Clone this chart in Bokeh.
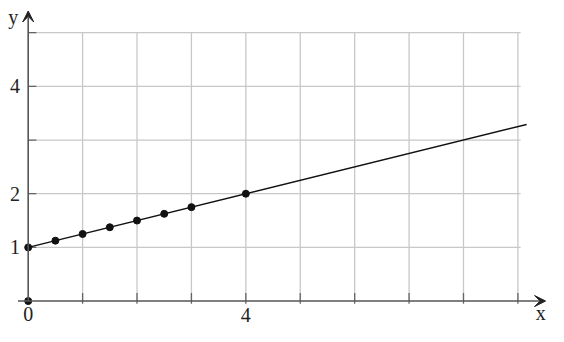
from bokeh.plotting import figure
from bokeh.models import Range1d, Arrow, VeeHead
from bokeh.core.properties import value
from bokeh.embed import file_html
from bokeh.resources import INLINE

# data
point_x = [0, 0.5, 1, 1.5, 2, 2.5, 3, 4]
point_y = [1, 1.125, 1.25, 1.375, 1.5, 1.625, 1.75, 2]
origin_x = [0]
origin_y = [0]
line_x = [0, 9.16]
line_y = [1, 3.29]
grid_x = [1, 2, 3, 4, 5, 6, 7, 8, 9]
grid_y = [1, 2, 3, 4, 5]
x_tick_vals = [0, 4]
x_tick_text = ["0", "4"]
y_tick_vals = [1, 2, 4]
y_tick_text = ["1", "2", "4"]

W, H = 548, 326
kx, ky = W / 564.0, H / 342.0
sx, sy = 56.0 * kx, 56.3 * ky
ox, oy = 28.5 * kx, 315.3 * ky  # pixel position of data origin inside figure


def dx(px):
    return (px * kx - ox) / sx


def dy(py):
    return (oy - py * ky) / sy


p = figure(width=W, height=H, output_backend="svg", toolbar_location=None,
           x_range=Range1d(-ox / sx, (W - ox) / sx),
           y_range=Range1d(-(H - oy) / sy, oy / sy),
           min_border=0, outline_line_color=None)
p.axis.visible = False
p.grid.visible = False
p.background_fill_color = "white"

gx_end = 9.05
gy_end = 5.0
# grid
p.segment(x0=grid_x, y0=[0] * len(grid_x), x1=grid_x, y1=[gy_end] * len(grid_x),
          line_color="#c8c8c8", line_width=1.3)
p.segment(x0=[0] * len(grid_y), y0=grid_y, x1=[gx_end] * len(grid_y), y1=grid_y,
          line_color="#c8c8c8", line_width=1.3)
# ticks
p.segment(x0=grid_x, y0=[0.15] * len(grid_x), x1=grid_x, y1=[-0.05] * len(grid_x),
          line_color="#666666", line_width=1.3)
p.segment(x0=[0] * len(grid_y), y0=grid_y, x1=[0.15] * len(grid_y), y1=grid_y,
          line_color="#666666", line_width=1.3)

# axes with arrows
p.add_layout(Arrow(x_start=dx(18), y_start=0, x_end=dx(561), y_end=0,
                   line_color="#555555", line_width=1.6,
                   end=VeeHead(size=11, line_color="#222222", fill_color="#222222", line_width=1)))
p.add_layout(Arrow(x_start=0, y_start=0, x_end=0, y_end=dy(11),
                   line_color="#555555", line_width=1.6,
                   end=VeeHead(size=11, line_color="#222222", fill_color="#222222", line_width=1)))

# function line and points
p.line(line_x, line_y, line_color="#111111", line_width=1.4)
p.scatter(point_x, point_y, size=7, color="#111111")
p.scatter(origin_x, origin_y, size=7, color="#111111")

font = value("Liberation Serif")
fs = "20px"
# tick labels
p.text(x=x_tick_vals, y=[dy(328.5), dy(329.5)], text=x_tick_text, text_font=font,
       text_font_size=fs, text_align="center", text_baseline="middle", text_color="#222222")
p.text(x=[dx(15)] * len(y_tick_vals), y=y_tick_vals, text=y_tick_text, text_font=font,
       text_font_size=fs, text_align="center", text_baseline="middle", text_color="#222222")
# axis labels
p.text(x=[dx(13)], y=[dy(17)], text=["y"], text_font=font, text_font_size=fs,
       text_align="center", text_baseline="middle", text_color="#222222")
p.text(x=[dx(556)], y=[dy(328)], text=["x"], text_font=font, text_font_size=fs,
       text_align="center", text_baseline="middle", text_color="#222222")

open("out.html", "w").write(file_html(p, INLINE))
